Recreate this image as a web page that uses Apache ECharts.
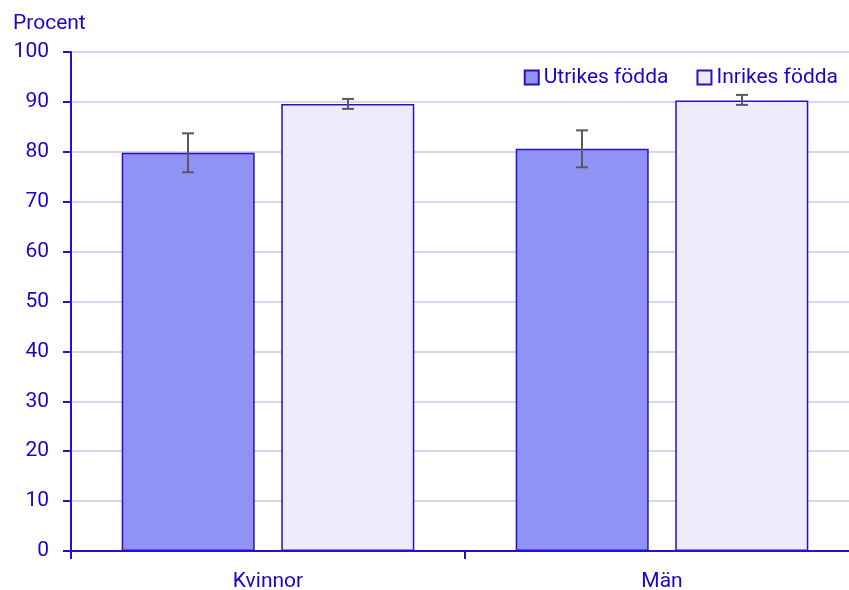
<!DOCTYPE html>
<html>
<head>
<meta charset="utf-8">
<script src="https://cdn.jsdelivr.net/npm/echarts@6/dist/echarts.min.js"></script>
<style>
  html, body { margin: 0; padding: 0; background: #fff; }
  #chart { width: 849px; height: 590px; }
</style>
</head>
<body>
<div id="chart"></div>
<script>
// data
const categories = ['Kvinnor', 'Män']
const utrikes = [79.8, 80.6]
const inrikes = [89.6, 90.3]
// confidence intervals [low, high]
const utrikesCI = [[75.9, 83.7], [76.9, 84.3]]
const inrikesCI = [[88.6, 90.6], [89.4, 91.4]]

const textColor = '#2200cc'
const axisColor = '#2a10c8'

// error bar for one series, shifted sideways to sit on its bar
function errorBar(ci, offset) {
  return {
    type: 'custom',
    silent: true,
    z: 10,
    data: ci.map((d, i) => [i, d[0], d[1]]),
    renderItem: function (params, api) {
      const low = api.coord([api.value(0), api.value(1)])
      const high = api.coord([api.value(0), api.value(2)])
      const x = low[0] + offset
      const cap = 6
      const style = { stroke: '#5a5a5a', lineWidth: 2 }
      return {
        type: 'group',
        children: [
          { type: 'line', shape: { x1: x, y1: high[1], x2: x, y2: low[1] }, style },
          { type: 'line', shape: { x1: x - cap, y1: high[1], x2: x + cap, y2: high[1] }, style },
          { type: 'line', shape: { x1: x - cap, y1: low[1], x2: x + cap, y2: low[1] }, style }
        ]
      }
    }
  }
}

const chart = echarts.init(document.getElementById('chart'))
chart.setOption({
  animation: false,
  textStyle: { fontFamily: 'Roboto' },
  title: {
    text: 'Procent',
    left: 8,
    top: 8,
    textStyle: { color: textColor, fontSize: 21, fontWeight: 'normal', fontFamily: 'Roboto' }
  },
  legend: {
    top: 62,
    right: 6,
    itemWidth: 14,
    itemHeight: 14,
    itemGap: 28,
    icon: 'rect',
    textStyle: { color: textColor, fontSize: 21 },
    data: ['Utrikes födda', 'Inrikes födda']
  },
  grid: { left: 71, width: 788, top: 52, bottom: 39, containLabel: false, outerBoundsMode: 'none' },
  xAxis: {
    type: 'category',
    data: categories,
    axisLine: { lineStyle: { color: axisColor, width: 2 } },
    axisTick: { show: true, length: 8, lineStyle: { color: axisColor, width: 2 } },
    axisLabel: { color: textColor, fontSize: 21, margin: 20 }
  },
  yAxis: {
    type: 'value',
    min: 0,
    max: 100,
    interval: 10,
    axisLine: { show: true, lineStyle: { color: axisColor, width: 2 } },
    axisTick: { show: true, length: 8, lineStyle: { color: axisColor, width: 2 } },
    axisLabel: { color: textColor, fontSize: 21, margin: 22 },
    splitLine: { lineStyle: { color: '#d6d6f0', width: 2 } }
  },
  series: [
    {
      name: 'Utrikes födda',
      type: 'bar',
      data: utrikes,
      barWidth: 133,
      barGap: '20%',
      itemStyle: { color: '#8f93f5', borderColor: axisColor, borderWidth: 1.5 }
    },
    {
      name: 'Inrikes födda',
      type: 'bar',
      data: inrikes,
      barWidth: 133,
      barGap: '20%',
      itemStyle: { color: '#edecfd', borderColor: axisColor, borderWidth: 1.5 }
    },
    errorBar(utrikesCI, -80),
    errorBar(inrikesCI, 80)
  ]
})
</script>
</body>
</html>
